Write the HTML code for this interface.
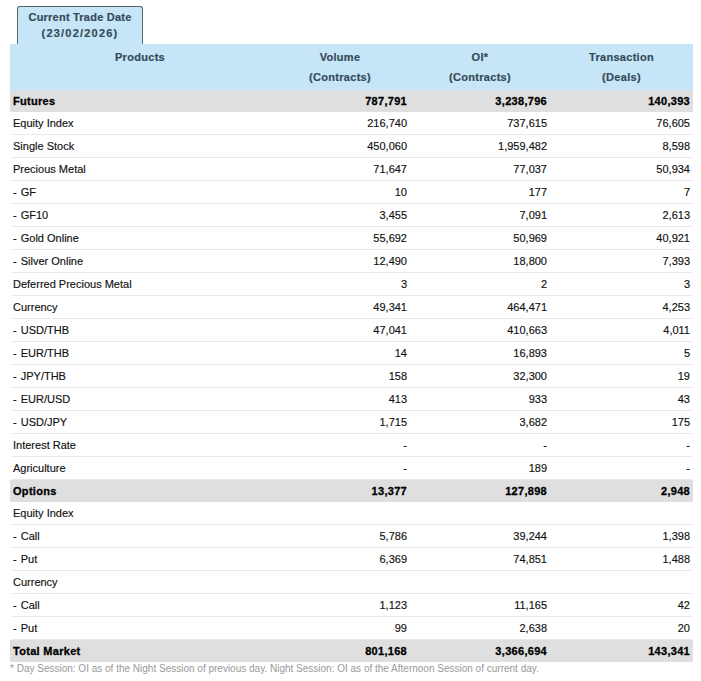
<!DOCTYPE html>
<html><head><meta charset="utf-8">
<style>
html,body{margin:0;padding:0;background:#fff;}
body{width:701px;height:681px;position:relative;overflow:hidden;font-family:"Liberation Sans",sans-serif;font-size:11px;color:#111;}
.tab{-webkit-text-stroke:0.2px #354b58;position:absolute;left:17px;top:6px;width:124px;height:36px;border:1px solid #56646b;border-bottom:none;border-radius:3px 3px 0 0;background:#c6e6f8;color:#354b58;font-weight:bold;text-align:center;line-height:16px;padding-top:2px;box-sizing:content-box;white-space:nowrap;}
.tab .l1{letter-spacing:0.22px;}
.tab .l2{letter-spacing:1.2px;}
table{position:absolute;left:10px;top:44px;width:683px;border-collapse:separate;border-spacing:0;table-layout:fixed;}
th{-webkit-text-stroke:0.2px #354b58;background:#c6e6f8;color:#354b58;font-weight:bold;height:46px;padding:0;vertical-align:top;line-height:20px;letter-spacing:0.3px;}
th div{padding-top:3px;}
td{-webkit-text-stroke:0.15px #111;height:22px;padding:0 3px;border-bottom:1px solid transparent;text-align:right;white-space:nowrap;box-sizing:content-box;background:linear-gradient(#e9e9e9,#e9e9e9) no-repeat 0 100%/100% 1px;background-origin:border-box;background-clip:border-box;}
td:first-child{background-size:calc(100% - 2px) 1px;background-position:2px 100%;}
td:last-child{background-size:calc(100% - 1px) 1px;background-position:0 100%;}
td.p{text-align:left;}
.d{margin-right:1px;}
tr.g td{background:#dfdfdf !important;font-weight:bold;border-bottom:none;height:22px;letter-spacing:0.3px;-webkit-text-stroke:0.3px #000;color:#000;}
.note{position:absolute;left:10px;top:663px;font-size:10px;color:#999;white-space:nowrap;}
</style></head><body>
<div class="tab"><div class="l1">Current Trade Date</div><div class="l2">(23/02/2026)</div></div>
<table>
<colgroup><col style="width:260px"><col style="width:140px"><col style="width:140px"><col style="width:143px"></colgroup>
<tr><th><div>Products</div></th><th><div>Volume<br>(Contracts)</div></th><th><div>OI*<br>(Contracts)</div></th><th><div>Transaction<br>(Deals)</div></th></tr>
<tr class="g"><td class="p">Futures</td><td>787,791</td><td>3,238,796</td><td>140,393</td></tr>
<tr><td class="p">Equity Index</td><td>216,740</td><td>737,615</td><td>76,605</td></tr>
<tr><td class="p">Single Stock</td><td>450,060</td><td>1,959,482</td><td>8,598</td></tr>
<tr><td class="p">Precious Metal</td><td>71,647</td><td>77,037</td><td>50,934</td></tr>
<tr><td class="p"><span class="d">-</span> GF</td><td>10</td><td>177</td><td>7</td></tr>
<tr><td class="p"><span class="d">-</span> GF10</td><td>3,455</td><td>7,091</td><td>2,613</td></tr>
<tr><td class="p"><span class="d">-</span> Gold Online</td><td>55,692</td><td>50,969</td><td>40,921</td></tr>
<tr><td class="p"><span class="d">-</span> Silver Online</td><td>12,490</td><td>18,800</td><td>7,393</td></tr>
<tr><td class="p">Deferred Precious Metal</td><td>3</td><td>2</td><td>3</td></tr>
<tr><td class="p">Currency</td><td>49,341</td><td>464,471</td><td>4,253</td></tr>
<tr><td class="p"><span class="d">-</span> USD/THB</td><td>47,041</td><td>410,663</td><td>4,011</td></tr>
<tr><td class="p"><span class="d">-</span> EUR/THB</td><td>14</td><td>16,893</td><td>5</td></tr>
<tr><td class="p"><span class="d">-</span> JPY/THB</td><td>158</td><td>32,300</td><td>19</td></tr>
<tr><td class="p"><span class="d">-</span> EUR/USD</td><td>413</td><td>933</td><td>43</td></tr>
<tr><td class="p"><span class="d">-</span> USD/JPY</td><td>1,715</td><td>3,682</td><td>175</td></tr>
<tr><td class="p">Interest Rate</td><td>-</td><td>-</td><td>-</td></tr>
<tr><td class="p">Agriculture</td><td>-</td><td>189</td><td>-</td></tr>
<tr class="g"><td class="p">Options</td><td>13,377</td><td>127,898</td><td>2,948</td></tr>
<tr><td class="p">Equity Index</td><td></td><td></td><td></td></tr>
<tr><td class="p"><span class="d">-</span> Call</td><td>5,786</td><td>39,244</td><td>1,398</td></tr>
<tr><td class="p"><span class="d">-</span> Put</td><td>6,369</td><td>74,851</td><td>1,488</td></tr>
<tr><td class="p">Currency</td><td></td><td></td><td></td></tr>
<tr><td class="p"><span class="d">-</span> Call</td><td>1,123</td><td>11,165</td><td>42</td></tr>
<tr><td class="p"><span class="d">-</span> Put</td><td>99</td><td>2,638</td><td>20</td></tr>
<tr class="g"><td class="p">Total Market</td><td>801,168</td><td>3,366,694</td><td>143,341</td></tr>
</table>
<div class="note">* Day Session: OI as of the Night Session of previous day. Night Session: OI as of the Afternoon Session of current day.</div>
</body></html>
